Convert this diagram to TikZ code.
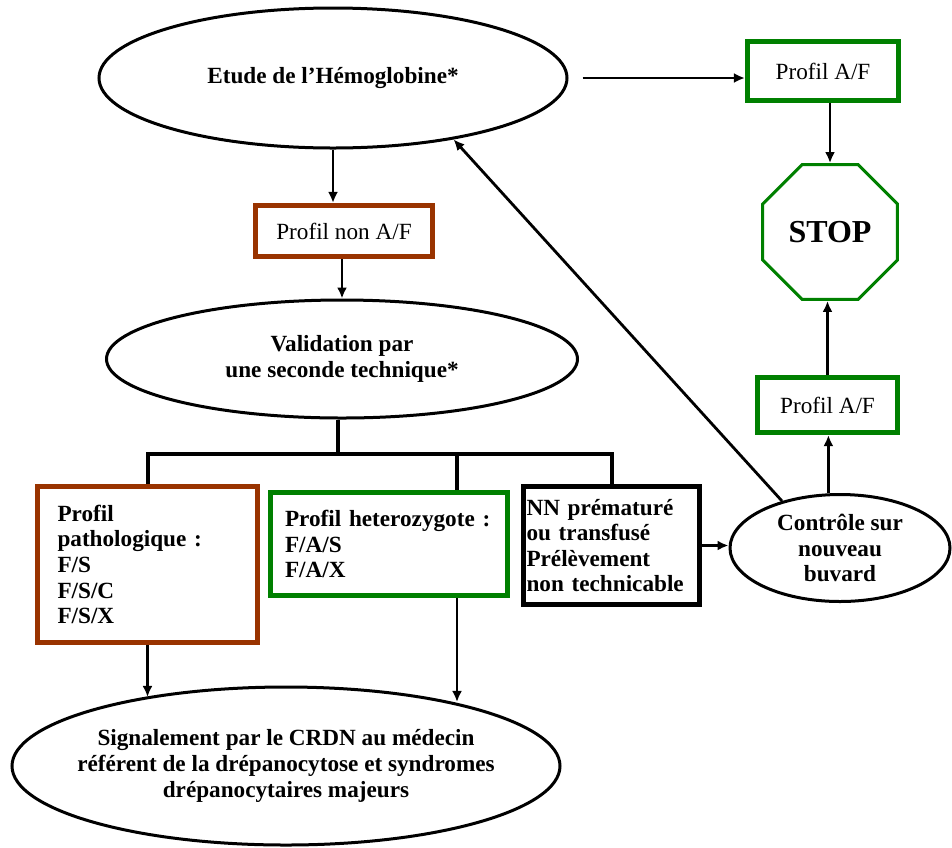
\documentclass[tikz,border=0pt]{standalone}
\usepackage{fontspec}
\setmainfont{Liberation Serif}
\usepackage{xcolor}
\usepackage{tikz}
\usetikzlibrary{arrows.meta,shapes.geometric}
\definecolor{rust}{HTML}{993300}
\definecolor{okgreen}{HTML}{008000}

\begin{document}
\begin{tikzpicture}[
  x=0.5pt, y=-0.5pt,
  every node/.style={font=\fontsize{11.6}{12.8}\selectfont\bfseries, inner sep=0pt},
  oval/.style={draw, ellipse, line width=1.5pt, align=center},
  greenbox/.style={draw=okgreen, line width=2.6pt},
  brownbox/.style={draw=rust, line width=2.6pt},
  blackbox/.style={draw, line width=2.6pt},
  plain/.style={font=\fontsize{11.6}{12.8}\selectfont},
  stopsign/.style={draw=okgreen, line width=1.5pt, regular polygon, regular polygon sides=8, minimum size=73pt, font=\fontsize{16}{16}\selectfont\bfseries},
  arr/.style={-{Latex[length=5.5pt,width=5pt]}, line width=1.4pt},
  tree/.style={line width=2pt}
]
  \useasboundingbox (0,0) rectangle (952,847);

  \node[oval, minimum width=234pt, minimum height=70pt] (etude) at (333,78) {Etude de l’Hémoglobine*};
  \node[greenbox, plain, minimum width=75.5pt, minimum height=29.5pt] (afTop) at (823,71) {Profil A/F};
  \node[stopsign] (stop) at (830,232) {STOP};
  \node[greenbox, plain, minimum width=70pt, minimum height=27.5pt] (afLow) at (827.5,405) {Profil A/F};
  \node[oval, minimum width=110pt, minimum height=53.5pt] (ctl) at (840,548) {Contrôle sur\\nouveau\\buvard};
  \node[brownbox, plain, minimum width=88.5pt, minimum height=25.5pt] (nonAF) at (344,231) {Profil non A/F};
  \node[oval, minimum width=235.5pt, minimum height=59pt] (valid) at (342,359) {Validation par\\une seconde technique*};
  \node[brownbox, minimum width=110pt, minimum height=78pt, text width=90pt, align=left] (patho) at (147.5,564.5) {Profil\\pathologique :\\F/S\\F/S/C\\F/S/X};
  \node[greenbox, minimum width=118.5pt, minimum height=51.5pt, text width=104pt, align=left] (hetero) at (389,544) {Profil heterozygote :\\F/A/S\\F/A/X};
  \node[blackbox, minimum width=88pt, minimum height=59pt, text width=85pt, align=left] (nn) at (611.5,545.5) {NN prématuré\\ou transfusé\\Prélèvement\\non technicable};
  \node[oval, inner xsep=-9pt, minimum width=274pt, minimum height=79pt] (sig) at (286,766) {Signalement par le CRDN au médecin\\référent de la drépanocytose et syndromes\\drépanocytaires majeurs};

  \coordinate (fork) at (338,454);
  \coordinate (midDrop) at (457,454);

  \draw[arr] ([xshift=7pt]etude.east) -- (etude.east -| afTop.west);
  \draw[arr] (stop.north |- afTop.south) -- (stop.north);
  \draw[arr] (afLow.north) -- (afLow.north |- stop.south);
  \draw[arr] (ctl.102) -- (ctl.102 |- afLow.south);
  \draw[arr] (nn.east) -- (nn.east -| ctl.west);
  \draw[arr] (ctl.141) -- (etude.333);
  \draw[arr] (etude.south) -- (etude.south |- nonAF.north);
  \draw[arr] (valid.north |- nonAF.south) -- (valid.north);

  \draw[tree] (fork |- valid.south) -- (fork);
  \draw[tree] (patho.north) -- (patho.north |- fork) -- (nn.north |- fork) -- (nn.north);
  \draw[tree] (midDrop) -- (midDrop |- hetero.north);

  \draw[arr] (patho.south) -- (patho.south |- sig.154);
  \draw[arr] (midDrop |- hetero.south) -- (midDrop |- sig.21);
\end{tikzpicture}
\end{document}
